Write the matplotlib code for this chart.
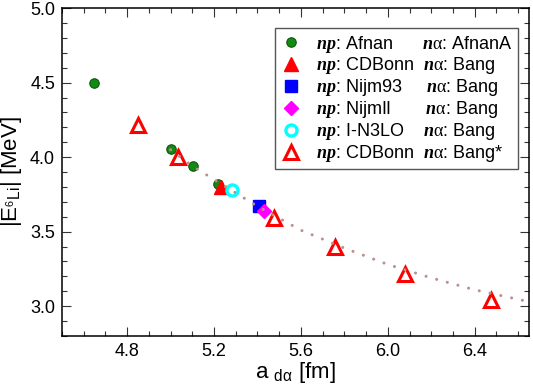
import matplotlib
matplotlib.use('Agg')
import matplotlib.pyplot as plt
from matplotlib.ticker import MultipleLocator

plt.rcParams['font.family'] = ['Liberation Sans', 'DejaVu Sans']
plt.rcParams['mathtext.fontset'] = 'custom'
plt.rcParams['mathtext.rm'] = 'Liberation Serif'
plt.rcParams['mathtext.sf'] = 'Liberation Sans'
plt.rcParams['mathtext.bfit'] = 'Liberation Serif:italic:bold'

# np: Afnan, nα: AfnanA
afnan_x = [4.648, 5.001, 5.103, 5.218]
afnan_y = [4.497, 4.057, 3.940, 3.821]
# np: CDBonn, nα: Bang
cdb_x = [5.232]
cdb_y = [3.800]
# np: Nijm93
nijm93_x = [5.408]
nijm93_y = [3.673]
# np: NijmII
nijm2_x = [5.430]
nijm2_y = [3.638]
# np: I-N3LO
n3lo_x = [5.281]
n3lo_y = [3.779]
# np: CDBonn, nα: Bang*
bang_x = [4.848, 5.034, 5.477, 5.755, 6.081, 6.476]
bang_y = [4.219, 4.003, 3.593, 3.398, 3.214, 3.040]
# dotted fit curve
fit_x = [5.00, 5.10, 5.20, 5.30, 5.40, 5.50, 5.60, 5.80, 6.00, 6.20, 6.40, 6.65]
fit_y = [4.05, 3.94, 3.85, 3.76, 3.67, 3.59, 3.51, 3.39, 3.28, 3.19, 3.11, 3.03]

np_ = r'$\mathbfit{np}$:'
na = r'$\mathbfit{n}\mathrm{\alpha}$:'
labels = [
    np_ + ' Afnan      ' + na + ' AfnanA',
    np_ + ' CDBonn  ' + na + ' Bang',
    np_ + ' Nijm93     ' + na + ' Bang',
    np_ + ' NijmII       ' + na + ' Bang',
    np_ + ' I-N3LO    ' + na + ' Bang',
    np_ + ' CDBonn  ' + na + ' Bang*',
]

fig = plt.figure(figsize=(5.33, 3.88), dpi=100)
ax = fig.add_axes([0.1163, 0.134, 0.8762, 0.845])

ax.plot(afnan_x, afnan_y, 'o', ms=6.8, color='#138a13', mec='#0a5a0a', mew=0.8,
        ls='none', label=labels[0])
ax.plot(cdb_x, cdb_y, '^', ms=10, color='red', mec='red', ls='none', label=labels[1])
ax.plot(nijm93_x, nijm93_y, 's', ms=8.5, color='blue', mec='blue', ls='none', label=labels[2])
ax.plot(nijm2_x, nijm2_y, 'D', ms=7.5, color='magenta', mec='magenta', ls='none', label=labels[3])
ax.plot(n3lo_x, n3lo_y, 'o', ms=8, mfc='white', mec='cyan', mew=2.4, ls='none', label=labels[4])
ax.plot(bang_x, bang_y, '^', ms=9.5, mfc='white', mec='red', mew=2.2, ls='none', label=labels[5])
ax.plot(fit_x, fit_y, color='#bc8f8f', lw=2.2, ls=(0, (0.01, 3.6)),
        dash_capstyle='round')

ax.set_xlim(4.5, 6.65)
ax.set_ylim(2.8, 5.0)
ax.xaxis.set_minor_locator(MultipleLocator(0.1))
ax.yaxis.set_minor_locator(MultipleLocator(0.1))
ax.set_xticks([4.8, 5.2, 5.6, 6.0, 6.4])
ax.set_xticklabels(['4.8', '5.2', '5.6', '6.0', '6.4'])
ax.set_yticks([3.0, 3.5, 4.0, 4.5, 5.0])
ax.set_yticklabels(['3.0', '3.5', '4.0', '4.5', '5.0'])
ax.tick_params(which='both', direction='in', top=True, right=True, labelsize=13,
               width=0.8, color='#333333')
ax.tick_params(which='major', length=6.5, pad=5)
ax.tick_params(which='minor', length=3.8)
for s in ax.spines.values():
    s.set_linewidth(1.1)

ax.set_xlabel(r'a ${}_{\mathsf{d\alpha}}$ [fm]', fontsize=16, labelpad=0)
ax.set_ylabel(r'|E$_{{}^{\mathsf{6}}\mathsf{Li}}$| [MeV]', fontsize=16, labelpad=4)

leg = ax.legend(loc='upper right', bbox_to_anchor=(0.976, 0.939), borderaxespad=0,
                fontsize=13, frameon=True, fancybox=False, framealpha=1,
                edgecolor='#555555', handlelength=1.2, handletextpad=0.75,
                labelspacing=0.05, borderpad=0.3, numpoints=1)
leg.get_frame().set_linewidth(1.0)

fig.savefig('out.png', dpi=100)
